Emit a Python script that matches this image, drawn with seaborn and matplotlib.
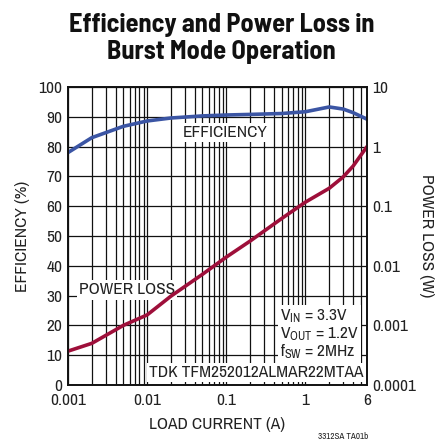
import numpy as np
import matplotlib
matplotlib.use("Agg")
import matplotlib.pyplot as plt
import matplotlib.ticker as mticker
import seaborn as sns

# load current (A) and the two curves
current = [0.001, 0.002, 0.005, 0.01, 0.02, 0.05, 0.1, 0.2, 0.5, 1, 2, 3, 4, 6]
efficiency = [78, 83, 86.8, 88.6, 89.6, 90.3, 90.6, 90.8, 91.1, 91.7, 93.3, 92.6, 91.4, 89.2]
power_loss = [0.00037, 0.0005, 0.001, 0.0015, 0.0031, 0.0072, 0.014, 0.026, 0.062,
              0.117, 0.2, 0.31, 0.47, 1.0]

x_ticks = [0.001, 0.01, 0.1, 1, 6]
x_labels = ["0.001", "0.01", "0.1", "1", "6"]
eff_ticks = list(range(0, 101, 10))
loss_ticks = [0.0001, 0.001, 0.01, 0.1, 1, 10]
loss_labels = ["0.0001", "0.001", "0.01", "0.1", "1", "10"]

sns.set_style("white")
FONT = ["Archivo Narrow", "DejaVu Sans"]
TITLE_FONT = ["Barlow Semi Condensed", "DejaVu Sans"]
plt.rcParams["font.family"] = FONT
plt.rcParams["mathtext.fontset"] = "custom"
plt.rcParams["mathtext.rm"] = "Archivo Narrow"
plt.rcParams["mathtext.it"] = "Archivo Narrow"

BLUE = "#3b55a4"
RED = "#9e0f3a"
TXT = "#222222"
FS = 12.5

fig = plt.figure(figsize=(4.43, 4.42), dpi=100)
ax = fig.add_axes([68 / 443, 57 / 442, 299 / 443, 298 / 442])
ax2 = ax.twinx()

sns.lineplot(x=current, y=efficiency, ax=ax, color=BLUE, linewidth=2.6)
sns.lineplot(x=current, y=power_loss, ax=ax2, color=RED, linewidth=2.6)

ax.set_xscale("log")
ax.set_xlim(0.001, 6)
ax.set_ylim(0, 100)
ax2.set_yscale("log")
ax2.set_ylim(0.0001, 10)

# grid: every 10 % horizontally, 1..9 per decade vertically
ax.set_yticks(eff_ticks)
ax.set_xticks(x_ticks)
ax.set_xticklabels(x_labels)
minor_x = [m * 10.0 ** d for d in range(-3, 1) for m in range(2, 10)]
minor_x = [v for v in minor_x if v < 6]
ax.xaxis.set_minor_locator(mticker.FixedLocator(minor_x))
ax.xaxis.set_minor_formatter(mticker.NullFormatter())
ax.grid(True, which="major", axis="both", color="#111111", linewidth=0.9)
ax.grid(True, which="minor", axis="x", color="#111111", linewidth=0.9)

ax2.set_yticks(loss_ticks)
ax2.set_yticklabels(loss_labels)
ax2.yaxis.set_minor_locator(mticker.NullLocator())
ax2.grid(False)

for a in (ax, ax2):
    a.tick_params(axis="both", which="both", length=0, labelsize=FS, colors=TXT, pad=4)
    for s in a.spines.values():
        s.set_color("#111111")
        s.set_linewidth(1.2)
ax.tick_params(axis="x", pad=6)

ax.set_xlabel("LOAD CURRENT (A)", fontsize=FS, color=TXT, labelpad=6)
ax.set_ylabel("EFFICIENCY (%)", fontsize=FS, color=TXT, labelpad=6)
ax2.set_ylabel("POWER LOSS (W)", fontsize=FS, color=TXT, rotation=270, va="center")
ax2.yaxis.set_label_coords(1.2, 0.5)

box = dict(facecolor="white", edgecolor="none", pad=1.5)
ax.text(0.525, 0.846, "EFFICIENCY", transform=ax.transAxes, fontsize=FS, color=TXT,
        ha="center", va="center", bbox=box, zorder=5)
ax.text(0.197, 0.319, "POWER LOSS", transform=ax.transAxes, fontsize=FS, color=TXT,
        ha="center", va="center", bbox=box, zorder=5)
ax.text(0.71, 0.17,
        "V$_{\\mathrm{IN}}$ = 3.3V\nV$_{\\mathrm{OUT}}$ = 1.2V\nf$_{\\mathrm{SW}}$ = 2MHz",
        transform=ax.transAxes, fontsize=FS, color=TXT, ha="left", va="center",
        linespacing=1.0, bbox=box, zorder=5)
ax.text(0.629, 0.042, "TDK TFM252012ALMAR22MTAA", transform=ax.transAxes, fontsize=FS,
        color=TXT, ha="center", va="center", bbox=box, zorder=5)

fig.text(0.5, 0.912, "Efficiency and Power Loss in\nBurst Mode Operation", ha="center",
         va="center", fontsize=19, fontweight="bold", color="#111111", linespacing=1.15,
         family=TITLE_FONT)
fig.text(0.832, 0.002, "3312SA TA01b", ha="right", va="bottom", fontsize=6.5, color=TXT)

fig.savefig("out.png", dpi=100)
